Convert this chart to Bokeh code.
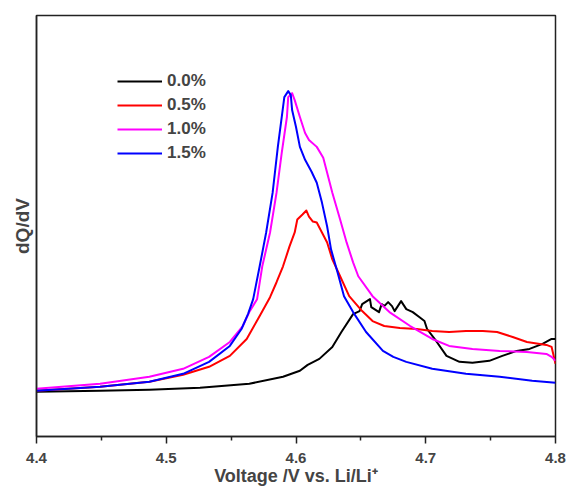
from bokeh.plotting import figure
from bokeh.models import Legend, LegendItem, FixedTicker, Range1d
from bokeh.embed import file_html
from bokeh.resources import INLINE

# 0.0 %
v_00 = [4.400, 4.449, 4.487, 4.526, 4.564, 4.590, 4.603, 4.609, 4.618, 4.628, 4.635, 4.644,
        4.649, 4.651, 4.657, 4.658, 4.664, 4.666, 4.668, 4.671, 4.674, 4.676, 4.681, 4.685,
        4.690, 4.695, 4.699, 4.701, 4.708, 4.716, 4.726, 4.736, 4.749, 4.759, 4.770, 4.780,
        4.790, 4.797, 4.800]
d_00 = [4.2, 4.3, 4.4, 4.6, 5.0, 5.7, 6.3, 6.9, 7.5, 8.7, 10.2, 12.0,
        12.3, 13.0, 13.5, 12.7, 12.2, 13.0, 12.8, 13.2, 12.8, 12.3, 13.3, 12.5,
        12.2, 11.7, 11.3, 10.5, 9.3, 7.8, 7.2, 7.1, 7.3, 7.8, 8.3, 8.5,
        9.0, 9.5, 9.5]

# 0.5 %
v_05 = [4.400, 4.449, 4.487, 4.513, 4.533, 4.549, 4.562, 4.572, 4.580, 4.585, 4.590, 4.595,
        4.599, 4.601, 4.605, 4.608, 4.610, 4.613, 4.616, 4.620, 4.624, 4.628, 4.634, 4.641,
        4.651, 4.659, 4.668, 4.680, 4.693, 4.705, 4.718, 4.731, 4.744, 4.755, 4.767, 4.778,
        4.793, 4.797, 4.800]
d_05 = [4.3, 4.7, 5.2, 5.9, 6.7, 7.8, 9.5, 11.8, 13.7, 15.2, 16.8, 18.8,
        20.2, 21.5, 22.0, 22.4, 21.8, 21.3, 21.2, 20.2, 19.2, 17.5, 15.8, 13.8,
        12.3, 11.3, 10.8, 10.6, 10.5, 10.3, 10.2, 10.3, 10.3, 10.2, 9.7, 9.2,
        8.9, 8.7, 7.0]

# 1.0 %
v_10 = [4.400, 4.449, 4.487, 4.513, 4.533, 4.549, 4.559, 4.564, 4.570, 4.574, 4.580, 4.585,
        4.589, 4.593, 4.594, 4.597, 4.599, 4.603, 4.607, 4.610, 4.616, 4.621, 4.624, 4.628,
        4.634, 4.639, 4.644, 4.648, 4.659, 4.672, 4.688, 4.705, 4.718, 4.736, 4.757, 4.778,
        4.793, 4.797, 4.800]
d_10 = [4.5, 5.0, 5.7, 6.5, 7.7, 9.2, 10.8, 12.2, 13.5, 16.8, 20.2, 24.2,
        28.2, 31.8, 33.8, 34.2, 33.5, 31.8, 30.2, 29.5, 28.8, 27.7, 26.2, 24.2,
        21.5, 19.2, 17.2, 15.8, 13.8, 12.2, 10.8, 9.5, 8.8, 8.5, 8.3, 8.2,
        8.0, 7.7, 7.3]

# 1.5 %
v_15 = [4.400, 4.449, 4.487, 4.513, 4.533, 4.549, 4.558, 4.563, 4.567, 4.572, 4.577, 4.582,
        4.586, 4.589, 4.591, 4.594, 4.596, 4.597, 4.600, 4.603, 4.607, 4.612, 4.616, 4.620,
        4.624, 4.627, 4.632, 4.637, 4.644, 4.654, 4.667, 4.675, 4.685, 4.705, 4.731, 4.757,
        4.782, 4.800]
d_15 = [4.3, 4.7, 5.2, 6.0, 7.2, 8.8, 10.5, 12.0, 13.5, 16.8, 20.2, 24.2,
        28.8, 31.8, 33.8, 34.4, 34.0, 32.5, 30.8, 28.8, 27.5, 26.3, 25.2, 23.2,
        20.8, 18.5, 16.2, 13.8, 12.2, 10.2, 8.3, 7.7, 7.2, 6.5, 6.0, 5.7,
        5.3, 5.1]

labels = ["0.0%", "0.5%", "1.0%", "1.5%"]
colors = ["black", "#ff0000", "#ff00ff", "#0000ff"]
x_ticks = [4.4, 4.5, 4.6, 4.7, 4.8]
x_minor = [4.45, 4.55, 4.65, 4.75]

FONT = "Liberation Sans"
AX = "#222222"

p = figure(width=566, height=488, output_backend="svg", toolbar_location=None,
           x_range=Range1d(4.4, 4.8), y_range=Range1d(-0.3, 42.0),
           min_border_left=36, min_border_right=11, min_border_top=15, min_border_bottom=50)

series = [(v_00, d_00), (v_05, d_05), (v_10, d_10), (v_15, d_15)]
renderers = []
for (vx, vy), c in zip(series, colors):
    r = p.line(vx, vy, line_color=c, line_width=2, line_join="round")
    renderers.append(r)

p.xgrid.visible = False
p.ygrid.visible = False
p.outline_line_color = AX
p.outline_line_width = 1.5

xa = p.xaxis[0]
xa.ticker = FixedTicker(ticks=x_ticks, minor_ticks=x_minor)
xa.axis_label = "Voltage /V vs. Li/Li\u207a"
xa.axis_label_text_font = FONT
xa.axis_label_text_font_style = "bold"
xa.axis_label_text_font_size = "18px"
xa.axis_label_standoff = 0
xa.major_label_text_font = FONT
xa.major_label_text_font_style = "bold"
xa.major_label_text_font_size = "15px"
xa.major_label_standoff = 9
xa.major_tick_in = 0
xa.major_tick_out = 7
xa.minor_tick_in = 0
xa.minor_tick_out = 4
xa.axis_line_color = AX
xa.axis_line_width = 1.5
xa.major_tick_line_color = AX
xa.major_tick_line_width = 1.5
xa.minor_tick_line_color = AX
xa.minor_tick_line_width = 1.5

ya = p.yaxis[0]
ya.ticker = FixedTicker(ticks=[])
ya.axis_label = "dQ/dV"
ya.axis_label_text_font = FONT
ya.axis_label_text_font_style = "bold"
ya.axis_label_text_font_size = "19px"
ya.axis_label_standoff = 4
ya.major_tick_line_color = None
ya.minor_tick_line_color = None
ya.axis_line_color = AX
ya.axis_line_width = 1.5

legend = Legend(items=[LegendItem(label=l, renderers=[r]) for l, r in zip(labels, renderers)],
                location=(81, 273), orientation="vertical",
                glyph_width=45, glyph_height=20, label_height=20, spacing=4,
                label_standoff=5, padding=0, margin=0,
                border_line_color=None, background_fill_alpha=0,
                label_text_font=FONT, label_text_font_style="bold",
                label_text_font_size="17px")
p.add_layout(legend)

open("out.html", "w").write(file_html(p, INLINE))
